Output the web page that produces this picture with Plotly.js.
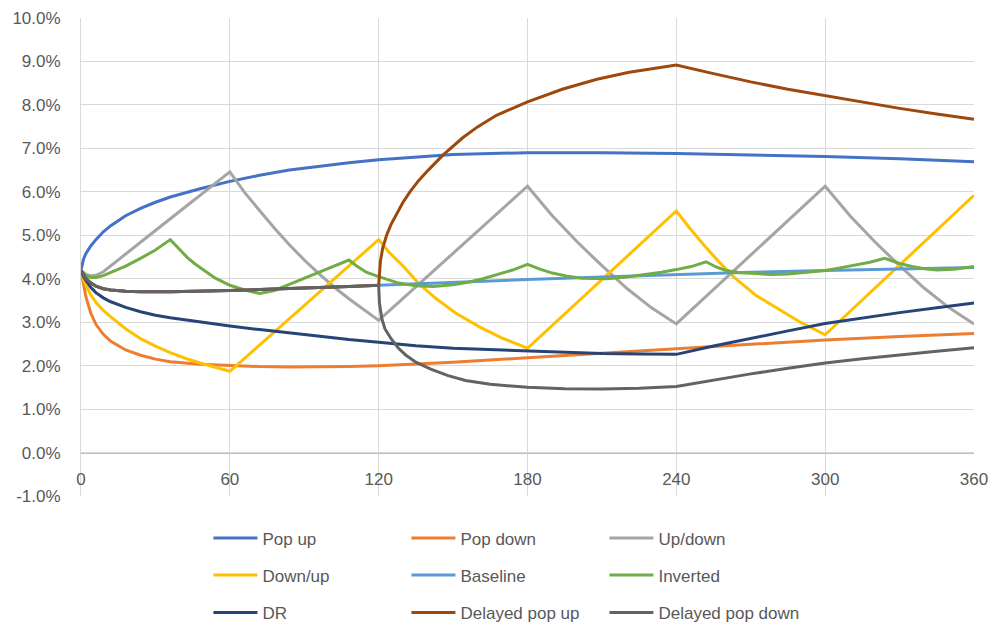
<!DOCTYPE html>
<html>
<head>
<meta charset="utf-8">
<script src="https://cdn.plot.ly/plotly-3.0.1.min.js"></script>
<style>
  html, body { margin: 0; padding: 0; background: #ffffff; }
  #chart { width: 991px; height: 626px; }
</style>
</head>
<body>
<div id="chart"></div>
<script>
// Rate paths (in %) by month for each scenario.
const popUpMonths = [0,1,2,4,6,9,12,18,24,30,36,48,60,72,84,96,108,120,150,180,210,240,270,300,330,360];
const popUpRate   = [4.19,4.45,4.58,4.76,4.90,5.08,5.22,5.45,5.62,5.76,5.88,6.07,6.24,6.38,6.50,6.59,6.67,6.74,6.86,6.90,6.90,6.88,6.85,6.81,6.76,6.69];

const popDownMonths = [0,1,2,4,6,9,12,18,24,30,36,48,60,72,84,96,108,120,150,180,210,240,270,300,330,360];
const popDownRate   = [4.19,3.85,3.58,3.20,2.95,2.72,2.56,2.36,2.24,2.15,2.09,2.03,2.00,1.98,1.97,1.97,1.98,2.00,2.08,2.18,2.29,2.39,2.49,2.59,2.67,2.74];

const upDownMonths = [0,2,4,6,9,12,24,36,48,60,66,72,78,84,90,96,102,108,114,120,180,190,200,210,220,230,240,300,310,320,330,340,350,360];
const upDownRate   = [4.19,4.10,4.07,4.08,4.16,4.30,4.84,5.38,5.92,6.46,5.98,5.56,5.16,4.78,4.43,4.11,3.81,3.54,3.28,3.04,6.13,5.45,4.85,4.30,3.78,3.33,2.96,6.13,5.45,4.85,4.30,3.78,3.33,2.96];

const downUpMonths = [0,1,2,4,6,9,12,18,24,30,36,42,48,54,60,120,124,130,136,143,151,161,170,180,240,245,251,257,263,272,281,290,300,360];
const downUpRate   = [4.19,3.98,3.85,3.62,3.46,3.27,3.12,2.85,2.62,2.45,2.30,2.17,2.06,1.96,1.87,4.90,4.62,4.28,3.90,3.55,3.21,2.88,2.63,2.40,5.56,5.19,4.78,4.40,4.05,3.62,3.30,3.00,2.71,5.92];

const baselineMonths = [0,1,2,4,6,9,12,18,24,36,48,60,72,84,96,108,120,150,180,210,240,270,300,330,360];
const baselineRate   = [4.19,4.08,4.00,3.90,3.83,3.77,3.74,3.71,3.70,3.70,3.71,3.73,3.75,3.77,3.80,3.82,3.85,3.92,3.98,4.04,4.10,4.15,4.19,4.23,4.26];

const invertedMonths = [0,2,4,6,9,12,18,24,30,36,38,40,43,46,50,54,60,66,72,78,84,90,96,102,108,111,115,120,128,135,142,150,156,162,169,174,180,185,190,196,202,212,220,228,234,240,246,252,256,260,266,272,278,285,292,300,306,312,318,324,330,335,340,345,352,360];
const invertedRate   = [4.19,4.07,4.03,4.03,4.07,4.14,4.29,4.47,4.66,4.90,4.78,4.66,4.48,4.34,4.17,4.02,3.85,3.74,3.66,3.73,3.87,4.01,4.14,4.28,4.43,4.30,4.15,4.05,3.90,3.84,3.82,3.86,3.92,4.00,4.11,4.20,4.33,4.22,4.13,4.06,4.01,4.00,4.04,4.10,4.15,4.21,4.28,4.39,4.27,4.19,4.14,4.12,4.10,4.11,4.14,4.19,4.25,4.31,4.38,4.47,4.35,4.28,4.23,4.20,4.22,4.28];

const drMonths = [0,1,2,4,6,9,12,18,24,30,36,48,60,72,84,96,108,120,135,150,165,180,195,210,225,240,255,270,285,300,315,330,345,360];
const drRate   = [4.19,4.05,3.96,3.80,3.68,3.56,3.47,3.34,3.24,3.16,3.10,3.00,2.91,2.83,2.75,2.67,2.60,2.54,2.46,2.40,2.37,2.34,2.30,2.28,2.27,2.26,2.45,2.63,2.80,2.97,3.10,3.22,3.33,3.44];

const delayedUpMonths = [0,1,2,4,6,9,12,18,24,36,48,60,72,84,96,108,120,120.2,120.7,121.6,123.2,125,127.2,129.7,132.6,136,140,146,154,160,167.5,180,194,208,221,240,255,270,285,300,315,330,345,360];
const delayedUpRate   = [4.19,4.08,4.00,3.90,3.83,3.77,3.74,3.71,3.70,3.70,3.71,3.73,3.75,3.77,3.80,3.82,3.85,4.10,4.40,4.70,5.00,5.25,5.50,5.75,6.00,6.25,6.50,6.85,7.25,7.50,7.76,8.07,8.36,8.59,8.75,8.92,8.72,8.53,8.36,8.21,8.06,7.92,7.79,7.67];

const delayedDownMonths = [0,1,2,4,6,9,12,18,24,36,48,60,72,84,96,108,120,120.3,121.2,122.5,125,128,131,135,141,148,155,165,180,195,210,225,240,255,270,285,300,315,330,345,360];
const delayedDownRate   = [4.19,4.08,4.00,3.90,3.83,3.77,3.74,3.71,3.70,3.70,3.71,3.73,3.75,3.77,3.80,3.82,3.85,3.45,3.10,2.85,2.62,2.40,2.24,2.08,1.92,1.77,1.66,1.57,1.50,1.47,1.46,1.48,1.52,1.67,1.81,1.94,2.06,2.16,2.25,2.33,2.41];

const seriesNames = ['Pop up','Pop down','Up/down','Down/up','Baseline','Inverted','DR','Delayed pop up','Delayed pop down'];
const seriesMonths = [popUpMonths, popDownMonths, upDownMonths, downUpMonths, baselineMonths, invertedMonths, drMonths, delayedUpMonths, delayedDownMonths];
const seriesRates  = [popUpRate, popDownRate, upDownRate, downUpRate, baselineRate, invertedRate, drRate, delayedUpRate, delayedDownRate];

const xTickVals = [0,60,120,180,240,300,360];
const xTickLabels = ['0','60','120','180','240','300','360'];
const yTickVals = [-1,0,1,2,3,4,5,6,7,8,9,10];
const yTickLabels = ['-1.0%','0.0%','1.0%','2.0%','3.0%','4.0%','5.0%','6.0%','7.0%','8.0%','9.0%','10.0%'];

// Office palette, one colour per series
const seriesColors = ['#4472C4','#ED7D31','#A5A5A5','#FFC000','#5B9BD5','#70AD47','#264478','#9E480E','#636363'];
// three legend rows of three entries each
const legendRow = ['legend','legend','legend','legend2','legend2','legend2','legend3','legend3','legend3'];

const textFont = { family: 'Liberation Sans, Arial, sans-serif', size: 17, color: '#595959' };

const traces = seriesNames.map((name, i) => ({
  type: 'scatter',
  mode: 'lines',
  name: name,
  x: seriesMonths[i],
  y: seriesRates[i],
  line: { color: seriesColors[i], width: 3, shape: 'linear' },
  legend: legendRow[i],
  hoverinfo: 'skip'
}));

// plot area is 478 px tall; legend rows sit below it
const plotHeight = 478;
function legendAt(rowCenterBelowPlot) {
  return {
    orientation: 'h',
    x: 0.1427, xanchor: 'left',
    y: -rowCenterBelowPlot / plotHeight, yanchor: 'middle',
    entrywidth: 139, entrywidthmode: 'pixels',
    itemwidth: 44,
    font: textFont,
    bgcolor: 'rgba(0,0,0,0)',
    borderwidth: 0,
    itemclick: false, itemdoubleclick: false
  };
}

const layout = {
  width: 991, height: 626,
  margin: { l: 81, r: 17, t: 18, b: 130, pad: 0, autoexpand: false },
  paper_bgcolor: '#ffffff',
  plot_bgcolor: '#ffffff',
  font: textFont,
  showlegend: true,
  xaxis: {
    range: [0, 360],
    tickmode: 'array', tickvals: xTickVals, ticktext: xTickLabels,
    anchor: 'free', position: 1 / 11,
    showline: true, linecolor: '#bfbfbf', linewidth: 1,
    showgrid: true, gridcolor: '#d9d9d9', gridwidth: 1,
    zeroline: false,
    ticks: '', ticklabelstandoff: 11,
    tickfont: textFont,
    fixedrange: true
  },
  yaxis: {
    range: [-1, 10],
    tickmode: 'array', tickvals: yTickVals, ticktext: yTickLabels,
    showline: true, linecolor: '#d9d9d9', linewidth: 1,
    showgrid: true, gridcolor: '#d9d9d9', gridwidth: 1,
    zeroline: false,
    ticks: '', ticklabelstandoff: 16,
    tickfont: textFont,
    fixedrange: true
  },
  legend: legendAt(42.5),
  legend2: legendAt(79.5),
  legend3: legendAt(117)
};

Plotly.newPlot('chart', traces, layout, { staticPlot: true, displayModeBar: false });
</script>
</body>
</html>
